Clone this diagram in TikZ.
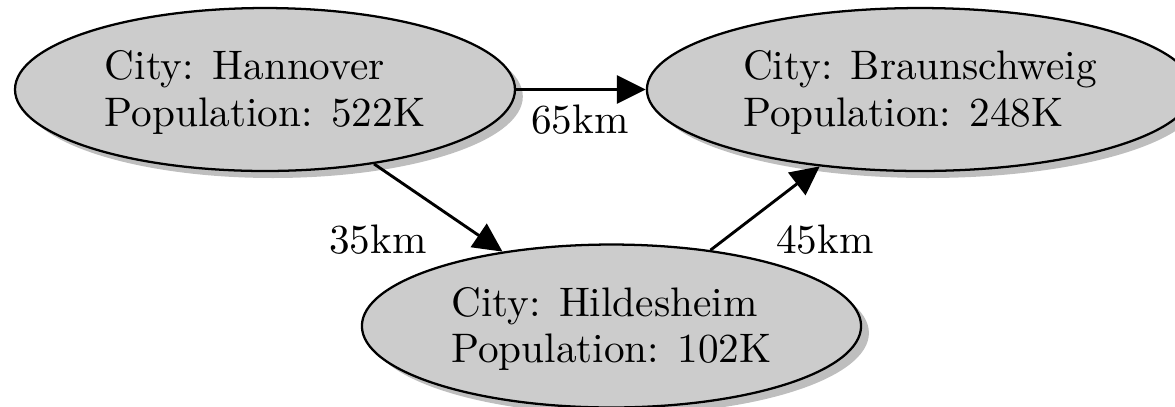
\documentclass[tikz,border=0pt]{standalone}
\usetikzlibrary{shapes.geometric,arrows.meta,shadows}
\definecolor{cityfill}{RGB}{204,204,204}
\definecolor{cityshadow}{RGB}{190,190,190}
\begin{document}
\begin{tikzpicture}[x=0.2424pt,y=-0.2424pt,
  city/.style={ellipse, draw=black, line width=0.55pt, fill=cityfill,
    inner sep=0pt, minimum height=39.5pt,
    drop shadow={shadow xshift=1.9pt, shadow yshift=-1.7pt, fill=cityshadow, opacity=1}},
  citytext/.style={align=left, inner sep=0pt,
    font=\fontsize{10}{11.2}\selectfont},
  road/.style={line width=0.7pt, -{Triangle[length=7pt, width=6.8pt]}},
  dist/.style={font=\fontsize{10}{12}\selectfont, inner sep=0pt}]
  \useasboundingbox (0,0) rectangle (1175,406);

  % city ellipses
  \node[city, minimum width=121.2pt] (han) at (265,89.5) {};
  \node[city, minimum width=132.4pt] (bra) at (920,89.5) {};
  \node[city, minimum width=121pt] (hil) at (611.5,326) {};

  % city descriptions
  \node[citytext] (hant) at (265,92.5) {City: Hannover\\Population: 522K};
  \node[citytext] (brat) at (920,92.5) {City: Braunschweig\\Population: 248K};
  \node[citytext] (hilt) at (611.5,329) {City: Hildesheim\\Population: 102K};

  % roads
  \draw[road] (han) -- (bra);
  \draw[road] (han) -- (hil);
  \draw[road] (hil) -- (bra);

  \node[dist] (l65) at (580,120) {65km};
  \node[dist] (l35) at (378,240) {35km};
  \node[dist] (l45) at (825,240) {45km};
\end{tikzpicture}
\end{document}
